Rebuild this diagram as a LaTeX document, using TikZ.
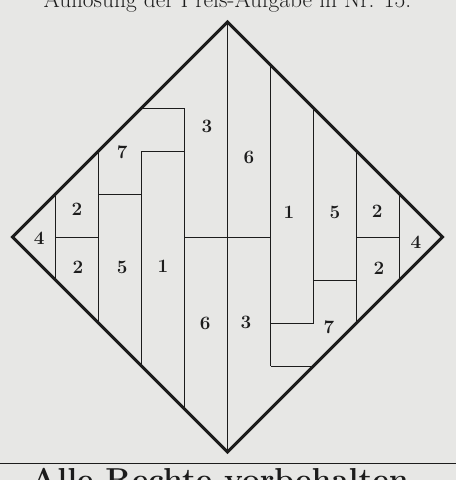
\documentclass[tikz,border=0pt]{standalone}
\usepackage{fontspec}
\definecolor{papier}{HTML}{E7E7E5}
\definecolor{tinte}{HTML}{1C1C1C}
\tikzset{
  rand/.style={draw=tinte, line width=2pt, line join=miter},
  schnitt/.style={draw=tinte, line width=0.6pt},
  zahl/.style={font=\fontsize{12.5}{14}\selectfont\bfseries, text=tinte, inner sep=0pt},
}

\begin{document}
\begin{tikzpicture}
  \clip (-5.291,-5.651) rectangle (5.314,5.512);
  \fill[papier] (-5.291,-5.651) rectangle (5.314,5.512);
  % Ecken des Quadrats
  \coordinate (oben) at (0,5);   \coordinate (rechts) at (5,0);
  \coordinate (unten) at (0,-5); \coordinate (links) at (-5,0);
  % Schnitte links
  \draw[schnitt] (oben) -- (unten);
  \draw[schnitt] (-4,1) -- (-4,-1);  \draw[schnitt] (-3,2) -- (-3,-2);
  \draw[schnitt] (-2,2) -- (-2,-3);  \draw[schnitt] (-1,3) -- (-1,-4);
  \draw[schnitt] (-4,0) -- (-3,0);   \draw[schnitt] (-3,1) -- (-2,1);
  \draw[schnitt] (-2,2) -- (-1,2);   \draw[schnitt] (-2,3) -- (-1,3);
  \draw[schnitt] (-1,0) -- (1,0);
  % Schnitte rechts
  \draw[schnitt] (4,1) -- (4,-1);    \draw[schnitt] (3,2) -- (3,-2);
  \draw[schnitt] (2,3) -- (2,-2);    \draw[schnitt] (1,4) -- (1,-3);
  \draw[schnitt] (3,0) -- (4,0);     \draw[schnitt] (2,-1) -- (3,-1);
  \draw[schnitt] (1,-2) -- (2,-2);   \draw[schnitt] (1,-3) -- (2,-3);
  \draw[rand] (oben) -- (rechts) -- (unten) -- (links) -- cycle;
  % Zahlen
  \node[zahl] (l4)  at (-4.38,-0.02) {4};
  \node[zahl] (l2o) at (-3.50,0.65)  {2};
  \node[zahl] (l2u) at (-3.48,-0.70) {2};
  \node[zahl] (l5)  at (-2.45,-0.70) {5};
  \node[zahl] (l1)  at (-1.50,-0.67) {1};
  \node[zahl] (l7)  at (-2.45,1.98)  {7};
  \node[zahl] (l3)  at (-0.48,2.58)  {3};
  \node[zahl] (l6)  at (-0.52,-2.00) {6};
  \node[zahl] (r6)  at (0.50,1.86)   {6};
  \node[zahl] (r1)  at (1.43,0.58)   {1};
  \node[zahl] (r5)  at (2.50,0.58)   {5};
  \node[zahl] (r2o) at (3.48,0.60)   {2};
  \node[zahl] (r2u) at (3.52,-0.72)  {2};
  \node[zahl] (r4)  at (4.38,-0.12)  {4};
  \node[zahl] (r7)  at (2.36,-2.09)  {7};
  \node[zahl] (r3)  at (0.43,-1.98)  {3};
  % Kopf und Fuss
  \node[anchor=base, inner sep=0pt, text=tinte] (kopf) at (0,5.34)
    {\fontsize{15.5}{18}\selectfont Auflösung der Preis-Aufgabe in Nr. 15.};
  \coordinate (strich-l) at (-5.291,-5.263);
  \coordinate (strich-r) at (5.314,-5.263);
  \draw[schnitt] (strich-l) -- (strich-r);
  \node[anchor=base, inner sep=0pt, text=tinte] (fuss) at (-0.07,-5.90)
    {\fontsize{21}{24}\selectfont\bfseries Alle Rechte vorbehalten.};
\end{tikzpicture}
\end{document}
